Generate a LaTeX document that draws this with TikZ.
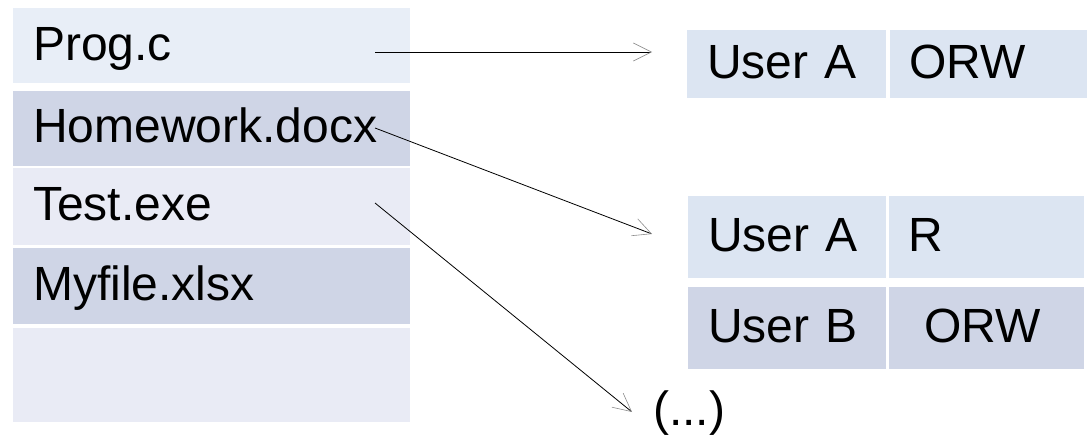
\documentclass[tikz,border=0pt]{standalone}
\usepackage{fontspec}
\setmainfont{Liberation Sans}
\usepackage{tikz}
\usetikzlibrary{arrows.meta, positioning}
\definecolor{rowlight}{HTML}{E8EEF7}
\definecolor{rowpale}{HTML}{E9EBF5}
\definecolor{rowdark}{HTML}{CFD5E6}
\definecolor{acllight}{HTML}{DCE5F2}
\definecolor{tipgray}{HTML}{8C8C8C}

\begin{document}
\begin{tikzpicture}[
    x=1pt, y=1pt,
    file/.style={rectangle, fill=#1, text width=357pt, inner xsep=20pt, inner ysep=0pt, text height=29pt, text depth=0pt, align=left, font=\fontsize{48}{57}\selectfont},
    acl/.style={rectangle, fill=#1, inner xsep=20pt, inner ysep=0pt, text height=29pt, text depth=0pt, align=left, font=\fontsize{48}{57}\selectfont},
    arr/.style={-{Straight Barb[length=18pt, width=18pt, line width=0.6pt, color=tipgray]}, line width=0.8pt},
  ]
  \useasboundingbox (0,0) rectangle (1087,434);

  % file list
  \node[file=rowlight, minimum height=75pt, anchor=north west] (prog) at (13,426) {Prog.c};
  \node[file=rowdark, minimum height=75pt, below=7pt of prog] (hw) {Homework.docx};
  \node[file=rowpale, minimum height=77pt, below=2pt of hw] (test) {Test.exe};
  \node[file=rowdark, minimum height=76pt, below=3pt of test] (myfile) {Myfile.xlsx};
  \node[file=rowpale, minimum height=94pt, below=3pt of myfile] (empty) {};

  % access lists
  \node[acl=acllight, text width=159pt, minimum height=68pt, anchor=north west] (ua1) at (687,404) {User A};
  \node[acl=acllight, text width=158pt, minimum height=68pt, right=3pt of ua1] (orw1) {ORW};

  \node[acl=acllight, text width=158pt, minimum height=82pt, anchor=north west] (ua2) at (688,238) {User A};
  \node[acl=acllight, text width=155pt, minimum height=82pt, right=2pt of ua2] (r2) {R};
  \node[acl=rowdark, text width=158pt, minimum height=82pt, below=8pt of ua2] (ub2) {User B};
  \node[acl=rowdark, text width=155pt, minimum height=82pt, right=2pt of ub2] (orw2) {\ ORW};

  \node[font=\fontsize{48}{57}\selectfont, inner sep=0pt, anchor=base west] (more) at (653,9) {(...)};

  \coordinate (progout) at (375,382);
  \coordinate (hwout) at (375,306);
  \coordinate (testout) at (375,231);
  \coordinate (acl1in) at (652,382);
  \coordinate (acl2in) at (652,200);
  \coordinate (morein) at (632,22);

  \draw[arr] (progout) -- (acl1in);
  \draw[arr] (hwout) -- (acl2in);
  \draw[arr] (testout) -- (morein);
\end{tikzpicture}
\end{document}
